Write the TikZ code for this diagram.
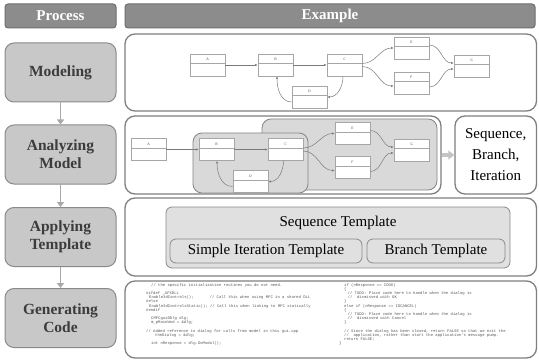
\documentclass[tikz,border=0pt]{standalone}
\usepackage{fontspec}
\setmainfont{Liberation Serif}
\setmonofont{Liberation Mono}
\usetikzlibrary{arrows.meta}
\definecolor{hdrfill}{HTML}{8C8C8C}
\definecolor{hdrdraw}{HTML}{6E6E6E}
\definecolor{procfill}{HTML}{C8C8C8}
\definecolor{procdraw}{HTML}{8A8A8A}
\definecolor{proctext}{HTML}{3C3C3C}
\definecolor{exdraw}{HTML}{7F7F7F}
\definecolor{regfill}{HTML}{D9D9D9}
\definecolor{regdraw}{HTML}{858585}
\definecolor{tmplfill}{HTML}{E0E0E0}
\definecolor{umldraw}{HTML}{A6A6A6}
\definecolor{flowcol}{HTML}{7A7A7A}
\definecolor{parrowcol}{HTML}{A8A8A8}
\definecolor{bigarrowcol}{HTML}{C4C4C4}
\definecolor{codecol}{HTML}{5A5A5A}
\newcommand\umlbox[3]{%
  \node[uml] (#1) at (#2) {#3};
  \draw[umlline] ([yshift=-10pt]#1.north west) -- ([yshift=-10pt]#1.north east);}
\begin{document}
\begin{tikzpicture}[x=1pt,y=-1pt,
  hdr/.style={draw=hdrdraw, fill=hdrfill, line width=1pt, rounded corners=3pt,
    text=white, font=\fontsize{15}{18}\selectfont\bfseries, inner sep=0pt},
  proc/.style={draw=procdraw, fill=procfill, line width=1pt, rounded corners=9pt,
    text=proctext, font=\fontsize{15.5}{18}\selectfont\bfseries, align=center,
    minimum width=111pt, minimum height=59pt, inner sep=0pt},
  exbox/.style={draw=exdraw, fill=white, line width=1.3pt, rounded corners=10pt, inner sep=0pt},
  region/.style={draw=regdraw, fill=regfill, line width=0.8pt, rounded corners=9pt, inner sep=0pt},
  tmpl/.style={draw=procdraw, fill=tmplfill, line width=0.8pt, rounded corners=6pt, inner sep=0pt,
    font=\fontsize{15}{18}\selectfont},
  uml/.style={draw=umldraw, fill=white, line width=0.6pt, minimum width=35pt, minimum height=22pt,
    inner xsep=0pt, inner ysep=1pt, text height=6pt, text depth=14pt,
    font=\fontsize{3.5}{4}\selectfont\sffamily, text=black!70},
  umlline/.style={draw=umldraw, line width=0.5pt},
  flow/.style={draw=flowcol, line width=0.5pt, -{Latex[length=2.6pt,width=2.2pt]}},
  parrow/.style={draw=parrowcol, line width=1.5pt, -{Triangle[length=5pt,width=7pt]}},
  bigarrow/.style={draw=bigarrowcol, line width=3.5pt, -{Triangle[length=6pt,width=9pt]}},
  code/.style={anchor=north west, inner sep=0pt, align=left,
    font=\fontsize{3.9}{4.2}\selectfont\ttfamily, text=codecol}
]
\useasboundingbox (0,0) rectangle (539,361);

% headers
\node[hdr, minimum width=111pt, minimum height=24pt] (hproc) at (60.5,16) {Process};
\node[hdr, minimum width=410pt, minimum height=24pt] (hex) at (330,16) {Example};

% process boxes
\node[proc] (m) at (60.5,72.5) {Modeling};
\node[proc] (a) at (60.5,154.5) {Analyzing\\Model};
\node[proc] (p) at (60.5,237) {Applying\\Template};
\node[proc] (g) at (60.5,318) {Generating\\Code};
\draw[parrow] (m) -- (a);
\draw[parrow] (a) -- (p);
\draw[parrow] (p) -- (g);

% example boxes
\node[exbox, minimum width=411.5pt, minimum height=77pt] (ex1) at (330.75,72.5) {};
\node[exbox, minimum width=316pt, minimum height=78pt] (ex2) at (283,155) {};
\node[exbox, minimum width=81.5pt, minimum height=78pt, align=center,
  font=\fontsize{15}{21}\selectfont] (seq) at (495.75,155) {Sequence,\\Branch,\\Iteration};
\node[exbox, minimum width=411.5pt, minimum height=78pt] (ex3) at (330.75,237) {};
\node[exbox, minimum width=411.5pt, minimum height=77pt] (ex4) at (330.75,319.5) {};
\draw[bigarrow] (ex2) -- (seq);

% ---- diagram 1
\umlbox{A1}{207.5,65}{A}
\umlbox{B1}{275.5,65}{B}
\umlbox{C1}{344.5,65}{C}
\umlbox{E1}{411.5,48}{E}
\umlbox{F1}{411.5,83}{F}
\umlbox{G1}{471.5,66}{G}
\umlbox{D1}{309.5,97}{D}
\draw[flow] (A1) -- (B1);
\draw[flow] (B1) -- (C1);
\draw[flow] ([yshift=1.5pt]C1.east) to[out=0,in=180] (E1.west);
\draw[flow] ([yshift=-1.5pt]C1.east) to[out=0,in=180] ([yshift=-3pt]F1.west);
\draw[flow] ([yshift=3pt]E1.east) to[out=0,in=180] ([yshift=3pt]G1.west);
\draw[flow] ([yshift=-4pt]F1.east) to[out=0,in=180] ([yshift=-3pt]G1.west);
\draw[flow] ([xshift=-1.5pt]C1.south) to[out=-90,in=0] (D1.east);
\draw[flow] ([yshift=-5pt]D1.west) to[out=180,in=-90] ([xshift=1.5pt]B1.south);

% ---- diagram 2
\node[region, minimum width=175pt, minimum height=71pt] (regR) at (349.5,154.5) {};
\node[region, minimum width=115pt, minimum height=60pt] (regL) at (250.5,163) {};
\umlbox{A2}{148.5,149.5}{A}
\umlbox{B2}{216.5,149.5}{B}
\umlbox{C2}{285.5,149.5}{C}
\umlbox{E2}{352.5,133.5}{E}
\umlbox{F2}{352.5,167.5}{F}
\umlbox{G2}{411.5,150}{G}
\umlbox{D2}{250.5,181.5}{D}
\draw[flow] (A2) -- (B2);
\draw[flow] (B2) -- (C2);
\draw[flow] ([yshift=1.5pt]C2.east) to[out=0,in=180] (E2.west);
\draw[flow] ([yshift=-1.5pt]C2.east) to[out=0,in=180] ([yshift=-3pt]F2.west);
\draw[flow] ([yshift=3pt]E2.east) to[out=0,in=180] ([yshift=3pt]G2.west);
\draw[flow] ([yshift=-4pt]F2.east) to[out=0,in=180] ([yshift=-3pt]G2.west);
\draw[flow] ([xshift=-2pt]C2.south) to[out=-90,in=0] (D2.east);
\draw[flow] ([yshift=-5pt]D2.west) to[out=180,in=-90] ([xshift=0.5pt]B2.south);

% ---- templates
\node[tmpl, minimum width=344pt, minimum height=61pt] (tseq) at (338,237.5) {};
\node[font=\fontsize{15}{18}\selectfont, inner sep=0pt] (tseqlbl) at (338,223) {Sequence Template};
\node[tmpl, minimum width=192pt, minimum height=24pt] (tsimple) at (266,251) {Simple Iteration Template};
\node[tmpl, minimum width=138pt, minimum height=24pt] (tbranch) at (436,251) {Branch Template};

% ---- code
\begin{scope}
\clip[rounded corners=10pt] (ex4.south west) rectangle (ex4.north east);
\node[code] (codeL) at (146,283) {%
\hspace*{5pt}// the specific initialization routines you do not need.\\[4.2pt]
\#ifdef \_AFXDLL\\
\hspace*{3pt}Enable3dControls();\hspace*{16pt}// Call this when using MFC in a shared DLL\\
\#else\\
\hspace*{3pt}Enable3dControlsStatic(); // Call this when linking to MFC statically\\
\#endif\\[4.2pt]
\hspace*{5pt}CMFCgui0Dlg dlg;\\
\hspace*{5pt}m\_pMainWnd = \&dlg;\\[4.2pt]
// Added reference to dialog for calls from model in this gui.cpp\\
\hspace*{9pt}theDialog = \&dlg;\\[4.2pt]
\hspace*{5pt}int nResponse = dlg.DoModal();};
\node[code] (codeR) at (339,283) {%
\hspace*{5pt}if (nResponse == IDOK)\\
\hspace*{5pt}\{\\
\hspace*{8.5pt}// TODO: Place code here to handle when the dialog is\\
\hspace*{8.5pt}//\ \ dismissed with OK\\
\hspace*{5pt}\}\\
\hspace*{5pt}else if (nResponse == IDCANCEL)\\
\hspace*{5pt}\{\\
\hspace*{8.5pt}// TODO: Place code here to handle when the dialog is\\
\hspace*{8.5pt}//\ \ dismissed with Cancel\\
\hspace*{5pt}\}\\[4.2pt]
\hspace*{5pt}// Since the dialog has been closed, return FALSE so that we exit the\\
\hspace*{5pt}//\ \ application, rather than start the application's message pump.\\
\hspace*{5pt}return FALSE;\\
\}};
\end{scope}
\end{tikzpicture}
\end{document}
